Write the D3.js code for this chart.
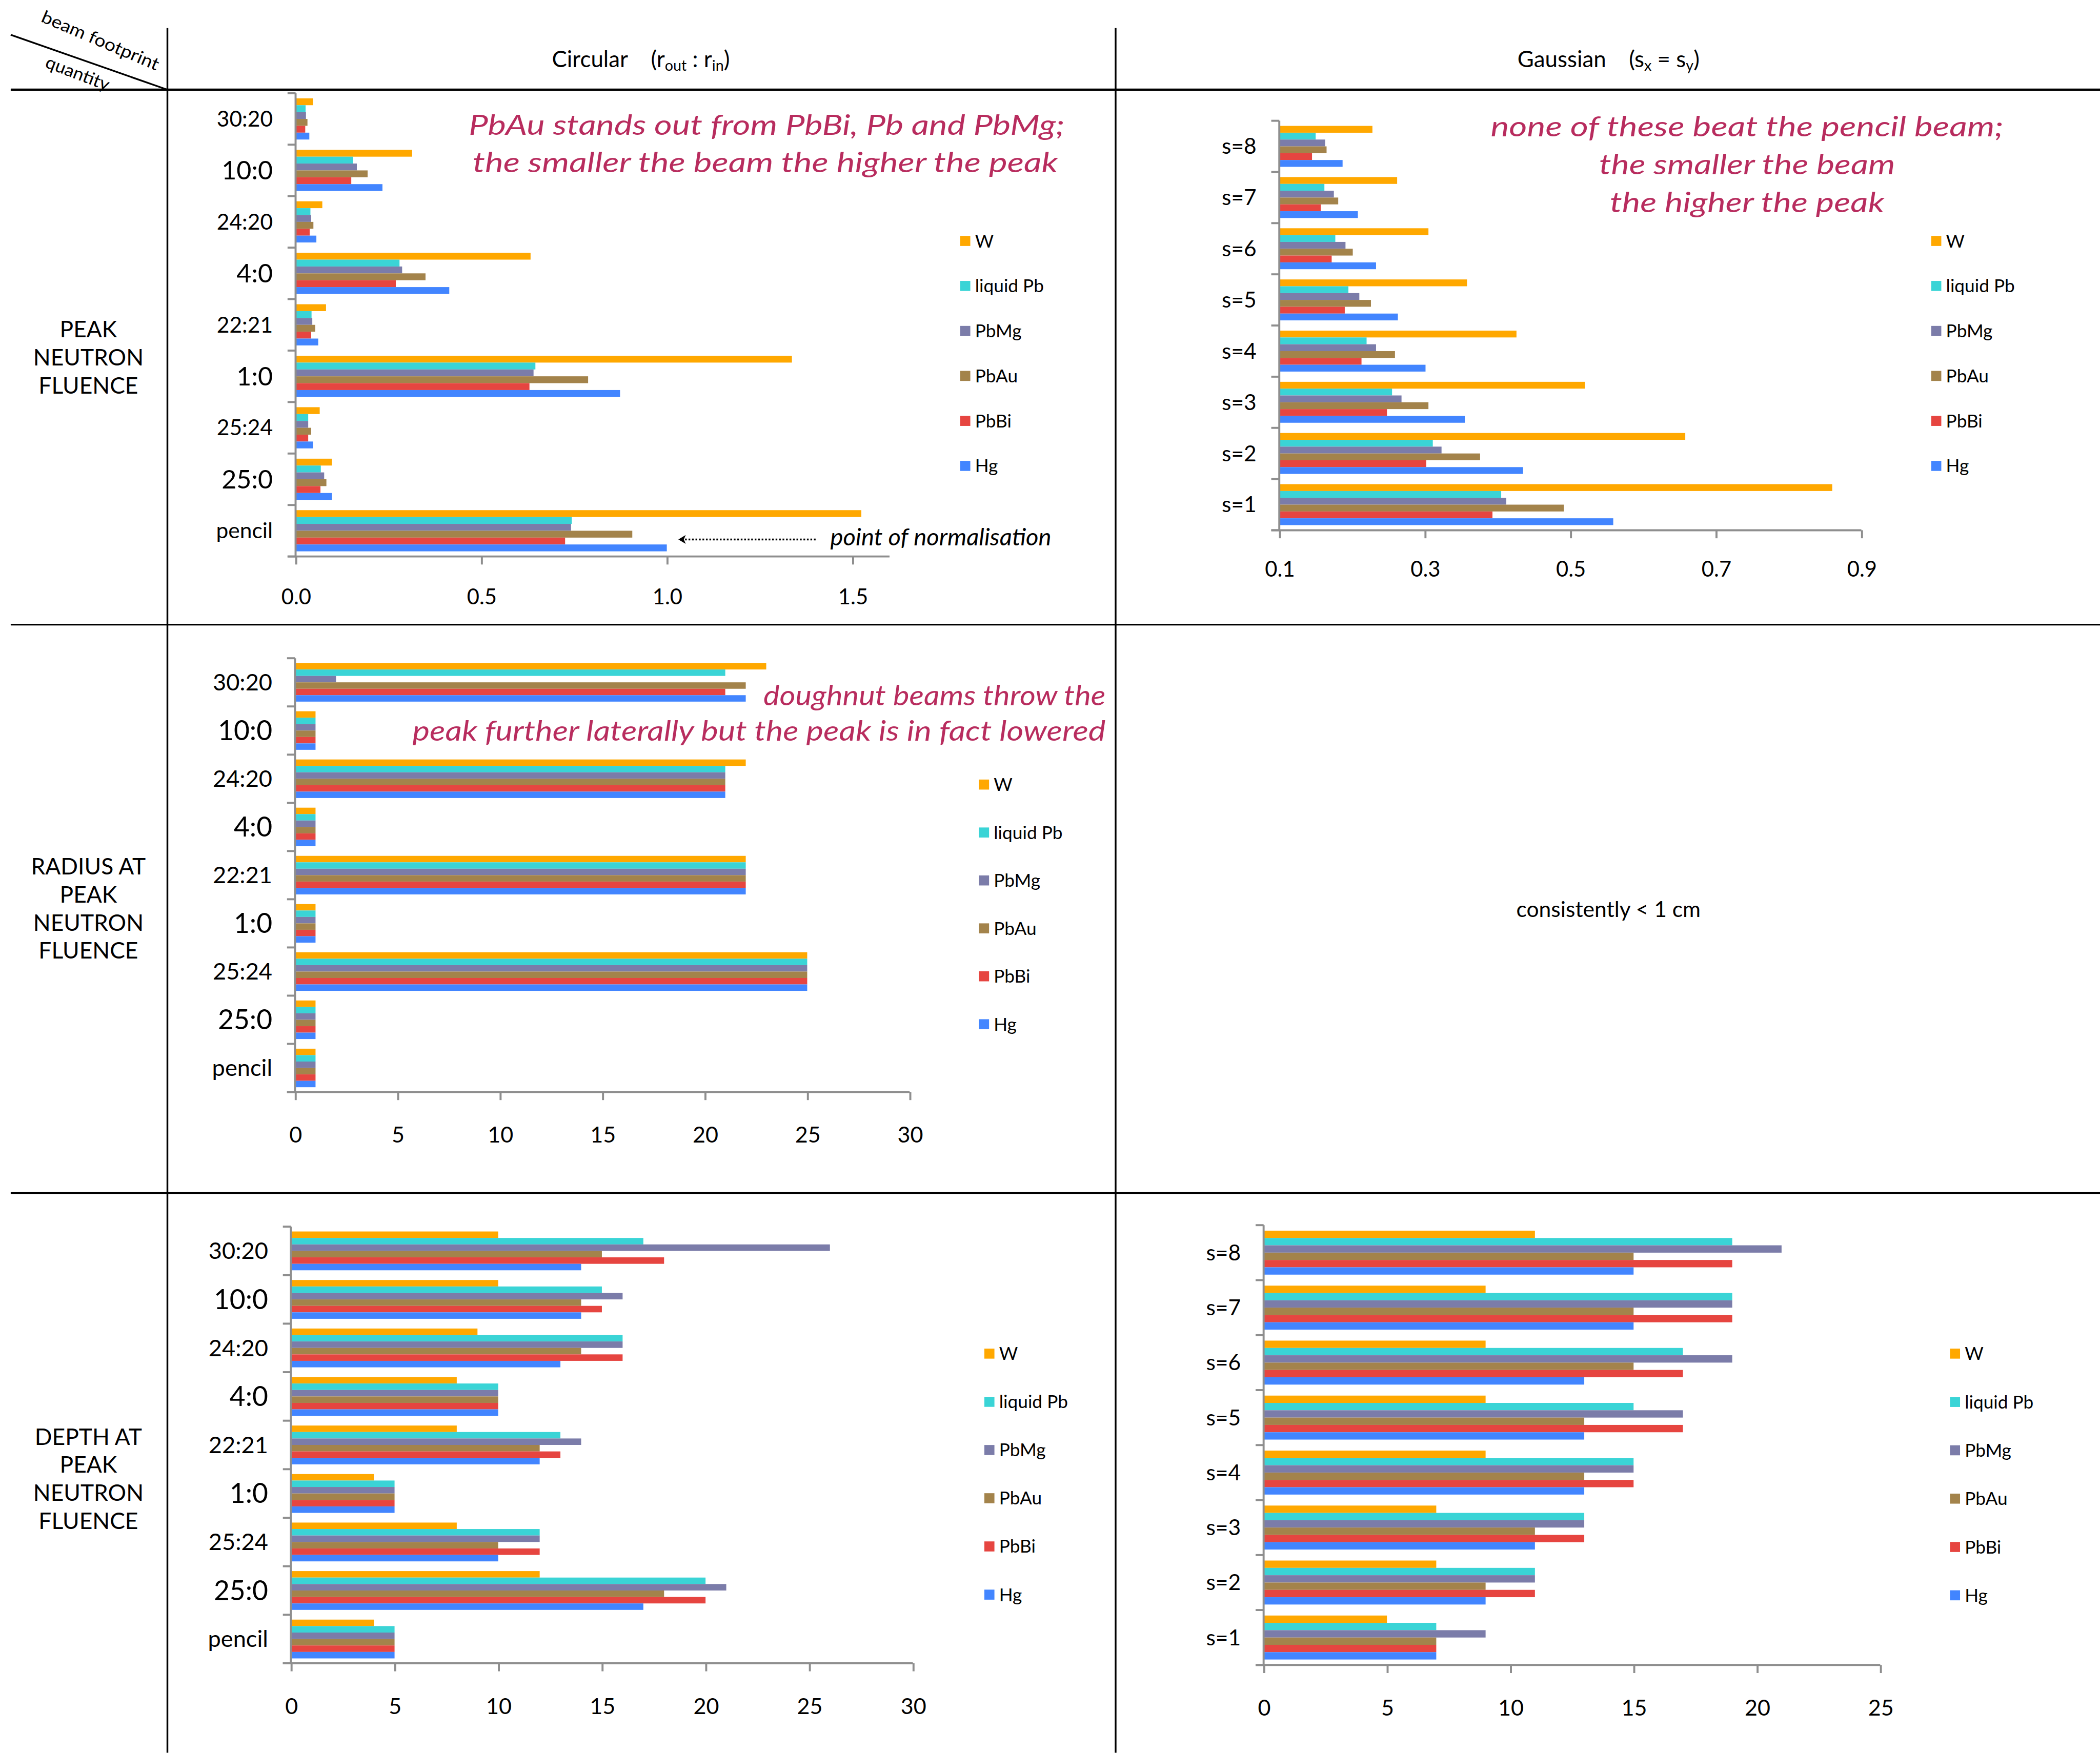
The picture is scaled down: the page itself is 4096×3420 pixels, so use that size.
<!DOCTYPE html>
<meta charset="utf-8">
<style>
  body { margin: 0; background: #fff; }
  text { font-family: Lato, "Open Sans", sans-serif; fill: #000; }
  .note { fill: #b82c5e; font-style: italic; }
</style>
<svg width="4096" height="3420"></svg>
<script src="https://d3js.org/d3.v7.min.js"></script>
<script>
  // ---- data ----
  var series = ["W", "liquid Pb", "PbMg", "PbAu", "PbBi", "Hg"];
  var seriesColors = ["#ffa800", "#3ad4d6", "#7b7ca9", "#a3834b", "#e64540", "#4285ff"];

  var circularBeams = ["30:20", "10:0", "24:20", "4:0", "22:21", "1:0", "25:24", "25:0", "pencil"];
  var gaussianBeams = ["s=8", "s=7", "s=6", "s=5", "s=4", "s=3", "s=2", "s=1"];

  // one row per beam, columns in series order
  var peakCircular = [
    [0.047, 0.027, 0.028, 0.032, 0.026, 0.037],
    [0.314, 0.155, 0.165, 0.194, 0.150, 0.234],
    [0.072, 0.040, 0.042, 0.048, 0.038, 0.056],
    [0.633, 0.280, 0.287, 0.350, 0.270, 0.414],
    [0.082, 0.043, 0.045, 0.053, 0.042, 0.061],
    [1.337, 0.646, 0.641, 0.788, 0.630, 0.874],
    [0.065, 0.034, 0.034, 0.042, 0.034, 0.047],
    [0.098, 0.068, 0.077, 0.083, 0.067, 0.098],
    [1.524, 0.744, 0.742, 0.907, 0.726, 1.000]
  ];
  var peakGaussian = [
    [0.228, 0.150, 0.163, 0.165, 0.145, 0.187],
    [0.262, 0.162, 0.175, 0.181, 0.157, 0.208],
    [0.305, 0.177, 0.191, 0.201, 0.172, 0.233],
    [0.358, 0.195, 0.210, 0.226, 0.190, 0.263],
    [0.426, 0.220, 0.233, 0.259, 0.213, 0.301],
    [0.520, 0.255, 0.268, 0.305, 0.248, 0.355],
    [0.658, 0.311, 0.323, 0.376, 0.302, 0.435],
    [0.860, 0.405, 0.412, 0.491, 0.393, 0.559]
  ];
  var radiusCircular = [
    [23, 21, 2, 22, 21, 22],
    [1, 1, 1, 1, 1, 1],
    [22, 21, 21, 21, 21, 21],
    [1, 1, 1, 1, 1, 1],
    [22, 22, 22, 22, 22, 22],
    [1, 1, 1, 1, 1, 1],
    [25, 25, 25, 25, 25, 25],
    [1, 1, 1, 1, 1, 1],
    [1, 1, 1, 1, 1, 1]
  ];
  var depthCircular = [
    [10, 17, 26, 15, 18, 14],
    [10, 15, 16, 14, 15, 14],
    [9, 16, 16, 14, 16, 13],
    [8, 10, 10, 10, 10, 10],
    [8, 13, 14, 12, 13, 12],
    [4, 5, 5, 5, 5, 5],
    [8, 12, 12, 10, 12, 10],
    [12, 20, 21, 18, 20, 17],
    [4, 5, 5, 5, 5, 5]
  ];
  var depthGaussian = [
    [11, 19, 21, 15, 19, 15],
    [9, 19, 19, 15, 19, 15],
    [9, 17, 19, 15, 17, 13],
    [9, 15, 17, 13, 17, 13],
    [9, 15, 15, 13, 15, 13],
    [7, 13, 13, 11, 13, 11],
    [7, 11, 11, 9, 11, 9],
    [5, 7, 9, 7, 7, 7]
  ];

  var ticksPeakCircular = [0, 0.5, 1.0, 1.5];
  var ticksPeakGaussian = [0.1, 0.3, 0.5, 0.7, 0.9];
  var ticksRadius = [0, 5, 10, 15, 20, 25, 30];
  var ticksDepthCircular = [0, 5, 10, 15, 20, 25, 30];
  var ticksDepthGaussian = [0, 5, 10, 15, 20, 25];

  // ---- drawing (layout in the 1568 wide frame, scaled up to the window) ----
  var svg = d3.select("svg");
  var k = 4096 / 1568;
  var root = svg.append("g").attr("transform", "scale(" + k + ")");

  // table grid
  var grid = root.append("g").attr("stroke", "#000");
  grid.append("line").attr("x1", 8).attr("x2", 1568).attr("y1", 67).attr("y2", 67).attr("stroke-width", 1.8);
  grid.append("line").attr("x1", 8).attr("x2", 1568).attr("y1", 466.5).attr("y2", 466.5).attr("stroke-width", 1.3);
  grid.append("line").attr("x1", 8).attr("x2", 1568).attr("y1", 891).attr("y2", 891).attr("stroke-width", 1.3);
  grid.append("line").attr("x1", 125).attr("x2", 125).attr("y1", 21).attr("y2", 1309).attr("stroke-width", 1.3);
  grid.append("line").attr("x1", 833).attr("x2", 833).attr("y1", 21).attr("y2", 1309).attr("stroke-width", 1.3);
  grid.append("line").attr("x1", 8).attr("y1", 26).attr("x2", 125).attr("y2", 67).attr("stroke-width", 1.3);

  root.append("text").attr("transform", "translate(30,16) rotate(23)")
    .attr("font-size", 13).attr("textLength", 94).attr("lengthAdjust", "spacingAndGlyphs").text("beam footprint");
  root.append("text").attr("transform", "translate(33,50) rotate(21)")
    .attr("font-size", 13).attr("textLength", 50).attr("lengthAdjust", "spacingAndGlyphs").text("quantity");

  // column headers
  var h1 = root.append("text").attr("x", 478.5).attr("y", 50).attr("text-anchor", "middle").attr("font-size", 16.8);
  h1.append("tspan").text("Circular");
  h1.append("tspan").attr("dx", 17).text("(r");
  h1.append("tspan").attr("font-size", 11).attr("dy", 3).text("out");
  h1.append("tspan").attr("dy", -3).text(" : r");
  h1.append("tspan").attr("font-size", 11).attr("dy", 3).text("in");
  h1.append("tspan").attr("dy", -3).text(")");

  var h2 = root.append("text").attr("x", 1201).attr("y", 50).attr("text-anchor", "middle").attr("font-size", 16.8);
  h2.append("tspan").text("Gaussian");
  h2.append("tspan").attr("dx", 17).text("(s");
  h2.append("tspan").attr("font-size", 11).attr("dy", 3).text("x");
  h2.append("tspan").attr("dy", -3).text(" = s");
  h2.append("tspan").attr("font-size", 11).attr("dy", 3).text("y");
  h2.append("tspan").attr("dy", -3).text(")");

  // row headers
  function rowLabel(lines, y0) {
    var t = root.append("text").attr("text-anchor", "middle").attr("font-size", 17);
    lines.forEach(function(s, i) {
      t.append("tspan").attr("x", 66).attr("y", y0 + i * 21).text(s);
    });
  }
  rowLabel(["PEAK", "NEUTRON", "FLUENCE"], 252);
  rowLabel(["RADIUS AT", "PEAK", "NEUTRON", "FLUENCE"], 653);
  rowLabel(["DEPTH AT", "PEAK", "NEUTRON", "FLUENCE"], 1079);

  root.append("text").attr("x", 1201).attr("y", 685).attr("text-anchor", "middle")
    .attr("font-size", 16.3).text("consistently < 1 cm");

  function panel(o) {
    var g = root.append("g");
    var x = d3.scaleLinear().domain(o.domain).range(o.xRange);
    var y = d3.scaleBand().domain(o.cats).range(o.yRange).padding(0);
    var ys = d3.scaleBand().domain(series).range([0, y.bandwidth()]).paddingInner(0).paddingOuter(0.75);
    var x0 = o.xRange[0];

    // bars
    var groups = g.selectAll("g.cat").data(o.rows).enter().append("g")
      .attr("transform", function(d, i) { return "translate(0," + y(o.cats[i]) + ")"; });
    groups.selectAll("rect").data(function(d) { return d; }).enter().append("rect")
      .attr("x", x(o.domain[0]))
      .attr("y", function(d, j) { return ys(series[j]); })
      .attr("width", function(d) { return x(d) - x(o.domain[0]); })
      .attr("height", ys.bandwidth())
      .attr("fill", function(d, j) { return seriesColors[j]; });

    // category axis with ticks on the band edges
    var edges = o.cats.map(function(c) { return y(c); }).concat([o.yRange[1]]);
    var ax = g.append("g").attr("stroke", "#8e8e8e").attr("stroke-width", 1.5);
    ax.append("line").attr("x1", x0).attr("x2", x0).attr("y1", o.yRange[0]).attr("y2", o.yRange[1]);
    ax.selectAll("line.t").data(edges).enter().append("line").attr("class", "t")
      .attr("x1", x0 - 6).attr("x2", x0).attr("y1", function(d) { return d; }).attr("y2", function(d) { return d; });

    g.selectAll("text.cat").data(o.cats).enter().append("text").attr("class", "cat")
      .attr("x", x0 - 17)
      .attr("y", function(d) { return y(d) + y.bandwidth() / 2; })
      .attr("dy", "0.35em")
      .attr("text-anchor", "end")
      .attr("font-size", function(d) { return /:0$/.test(d) ? o.catSize * 1.18 : o.catSize; })
      .text(function(d) { return d; });

    // value axis
    var xa = g.append("g").attr("transform", "translate(0," + o.yRange[1] + ")")
      .call(d3.axisBottom(x).tickValues(o.ticks).tickSize(6).tickSizeOuter(0).tickFormat(d3.format(o.fmt)));
    xa.select(".domain").attr("d", "M" + (x0 - 6) + ",0H" + o.xRange[1]).attr("stroke", "#8e8e8e").attr("stroke-width", 1.5);
    xa.selectAll(".tick line").attr("stroke", "#8e8e8e").attr("stroke-width", 1.5);
    xa.selectAll(".tick text").attr("y", o.tickDy).attr("dy", "0.35em")
      .attr("font-size", o.tickSize).attr("fill", "#000").attr("font-family", "Lato, 'Open Sans', sans-serif");

    // legend
    var lg = g.selectAll("g.leg").data(series).enter().append("g")
      .attr("transform", function(d, i) { return "translate(" + o.legendX + "," + (o.legendY + i * o.legendStep) + ")"; });
    lg.append("rect").attr("x", 0).attr("y", -3.8).attr("width", 7.5).attr("height", 7.5)
      .attr("fill", function(d, i) { return seriesColors[i]; });
    lg.append("text").attr("x", 11).attr("dy", "0.35em").attr("font-size", 13.5).text(function(d) { return d; });
  }

  panel({ cats: circularBeams, rows: peakCircular, domain: [0, 1.6], xRange: [220.7, 664.2], yRange: [69.6, 415.6],
    ticks: ticksPeakCircular, fmt: ".1f", catSize: 16.3, tickSize: 16, tickDy: 30,
    legendX: 717, legendY: 180, legendStep: 33.6 });
  panel({ cats: gaussianBeams, rows: peakGaussian, domain: [0.1, 0.9], xRange: [955.2, 1389.8], yRange: [90.2, 396],
    ticks: ticksPeakGaussian, fmt: ".1f", catSize: 16.3, tickSize: 16, tickDy: 29,
    legendX: 1442, legendY: 180, legendStep: 33.6 });
  panel({ cats: circularBeams, rows: radiusCircular, domain: [0, 30], xRange: [220.3, 679.2], yRange: [491.6, 815.6],
    ticks: ticksRadius, fmt: "d", catSize: 17.3, tickSize: 16.5, tickDy: 32,
    legendX: 731, legendY: 586, legendStep: 35.8 });
  panel({ cats: circularBeams, rows: depthCircular, domain: [0, 30], xRange: [217.2, 681.6], yRange: [916.1, 1242.2],
    ticks: ticksDepthCircular, fmt: "d", catSize: 17.3, tickSize: 16.5, tickDy: 32,
    legendX: 735, legendY: 1011, legendStep: 36 });
  panel({ cats: gaussianBeams, rows: depthGaussian, domain: [0, 25], xRange: [943.5, 1403.9], yRange: [915, 1243.5],
    ticks: ticksDepthGaussian, fmt: "d", catSize: 16.3, tickSize: 16.5, tickDy: 32,
    legendX: 1456, legendY: 1011, legendStep: 36.1 });

  // handwritten notes
  function note(s, x1, x2, y, size) {
    root.append("text").attr("class", "note").attr("x", x1).attr("y", y).attr("font-size", size)
      .attr("textLength", x2 - x1).attr("lengthAdjust", "spacingAndGlyphs").text(s);
  }
  note("PbAu stands out from PbBi, Pb and PbMg;", 350, 795, 100.5, 21);
  note("the smaller the beam the higher the peak", 353, 790, 128.6, 21);
  note("none of these beat the pencil beam;", 1113, 1496, 102, 21);
  note("the smaller the beam", 1194, 1415, 130, 21);
  note("the higher the peak", 1202, 1407, 158.5, 21);
  note("doughnut beams throw the", 570, 825.5, 526.8, 21);
  note("peak further laterally but the peak is in fact lowered", 308, 825.5, 553, 21);

  // normalisation pointer
  root.append("text").attr("x", 620).attr("y", 407.3).attr("font-size", 17.5).attr("font-style", "italic")
    .attr("textLength", 165).attr("lengthAdjust", "spacingAndGlyphs").text("point of normalisation");
  root.append("line").attr("x1", 609).attr("x2", 511).attr("y1", 402.9).attr("y2", 402.9)
    .attr("stroke", "#000").attr("stroke-width", 1.3).attr("stroke-dasharray", "1.3,1.3");
  root.append("path").attr("d", "M506.5,402.9L512,399.6L510.6,402.9L512,406.2Z").attr("fill", "#000");
</script>
